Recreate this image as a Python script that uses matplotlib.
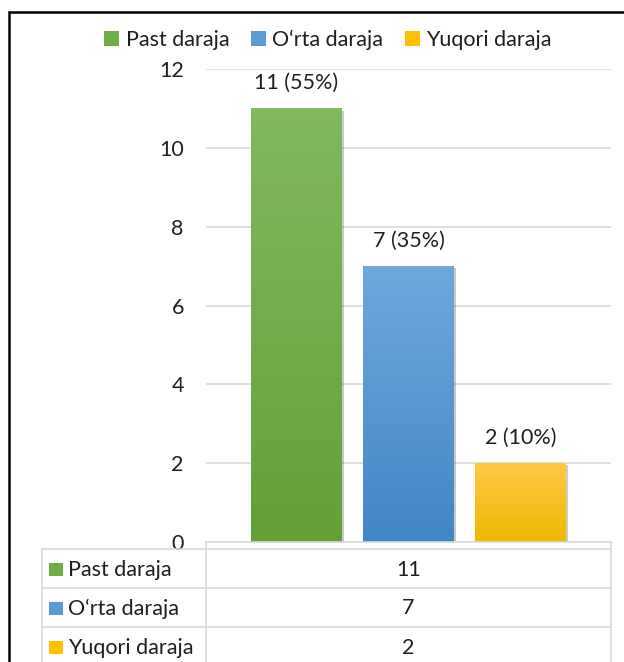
import matplotlib.pyplot as plt
import matplotlib.patheffects as pe
import numpy as np
from matplotlib.colors import LinearSegmentedColormap
from matplotlib.patches import Patch, Rectangle

plt.rcParams['font.family'] = ['Lato', 'DejaVu Sans']

# chart data
categories = ["Past daraja", "O\u2018rta daraja", "Yuqori daraja"]
values = [11, 7, 2]
percents = [55, 35, 10]
yticks = [0, 2, 4, 6, 8, 10, 12]

# top / bottom colour of each bar's gradient
top_colors = ["#80b95f", "#6fa7dd", "#ffc846"]
bottom_colors = ["#61a136", "#4186c6", "#efb800"]
solid_colors = ["#70ad47", "#5b9bd5", "#ffc000"]

FS = 15.5
TXT = "#1f1f1f"

W, H = 624, 662
fig = plt.figure(figsize=(W / 100, H / 100), dpi=100)
fig.patch.set_facecolor("white")

# frame around the chart
fig.add_artist(Rectangle((9 / W, -0.1), 1.0, 1 - 12 / H + 0.1, transform=fig.transFigure,
                         fill=False, edgecolor="black", linewidth=1.8))

# main plot area
x0, x1, y_top, y_bot = 206, 611, 69, 542
ax = fig.add_axes([x0 / W, (H - y_bot) / H, (x1 - x0) / W, (y_bot - y_top) / H])
pos = np.arange(len(values)) - 1
bars = ax.bar(pos, values, width=0.81, color=solid_colors, zorder=2,
              path_effects=[pe.SimplePatchShadow(offset=(1.5, -1.5), alpha=0.25), pe.Normal()])
for b, c_top, c_bot in zip(bars, top_colors, bottom_colors):
    cmap = LinearSegmentedColormap.from_list("g", [c_bot, c_top])
    grad = np.linspace(0, 1, 100).reshape(-1, 1)
    ax.imshow(grad, cmap=cmap, origin="lower", aspect="auto", zorder=3,
              extent=[b.get_x(), b.get_x() + b.get_width(), 0, b.get_height()])

for b, v, p in zip(bars, values, percents):
    ax.annotate(f"{v} ({p}%)", (b.get_x() + b.get_width() / 2, v), xytext=(0, 11),
                textcoords="offset points", ha="center", va="bottom", fontsize=FS, color=TXT)

ax.set_xlim(-1.8036, 1.8036)
ax.set_ylim(0, 12)
ax.set_yticks(yticks)
ax.set_xticks([])
ax.tick_params(axis="y", length=0, pad=16, labelsize=FS, labelcolor=TXT)
ax.grid(axis="y", color="#d9d9d9", linewidth=1.2, zorder=0)
for s in ax.spines.values():
    s.set_visible(False)

# legend at the top
handles = [Patch(facecolor=c) for c in solid_colors]
fig.legend(handles, categories, loc="center", bbox_to_anchor=(328 / W, 1 - 40 / H), ncol=3,
           frameon=False, fontsize=FS, handlelength=0.7, handleheight=0.7,
           handletextpad=0.3, columnspacing=1.0, labelcolor=TXT)

# data table below the plot
tab = fig.add_axes([0, 0, 1, 1], facecolor="none")
tab.set_xlim(0, W)
tab.set_ylim(H, 0)
tab.axis("off")
grid_c = "#d9d9d9"
row_lines = [549, 588, 627]
tab.plot([x0, x1], [y_bot, y_bot], color=grid_c, lw=1.2)
for y in row_lines:
    tab.plot([42, x1], [y, y], color=grid_c, lw=1.2)
tab.plot([42, 42], [row_lines[0], H], color=grid_c, lw=1.2)
for x in (x0, x1):
    tab.plot([x, x], [y_bot, H], color=grid_c, lw=1.2)

row_bounds = row_lines + [666]
for i, (cat, v, c) in enumerate(zip(categories, values, solid_colors)):
    yc = (row_bounds[i] + row_bounds[i + 1]) / 2
    tab.add_patch(Rectangle((49, yc - 6), 14, 13, facecolor=c, edgecolor="none"))
    tab.text(68, yc + 1, cat, ha="left", va="center", fontsize=FS, color=TXT)
    tab.text((x0 + x1) / 2, yc + 1, str(v), ha="center", va="center", fontsize=FS, color=TXT)

fig.savefig("out.png", dpi=100)
